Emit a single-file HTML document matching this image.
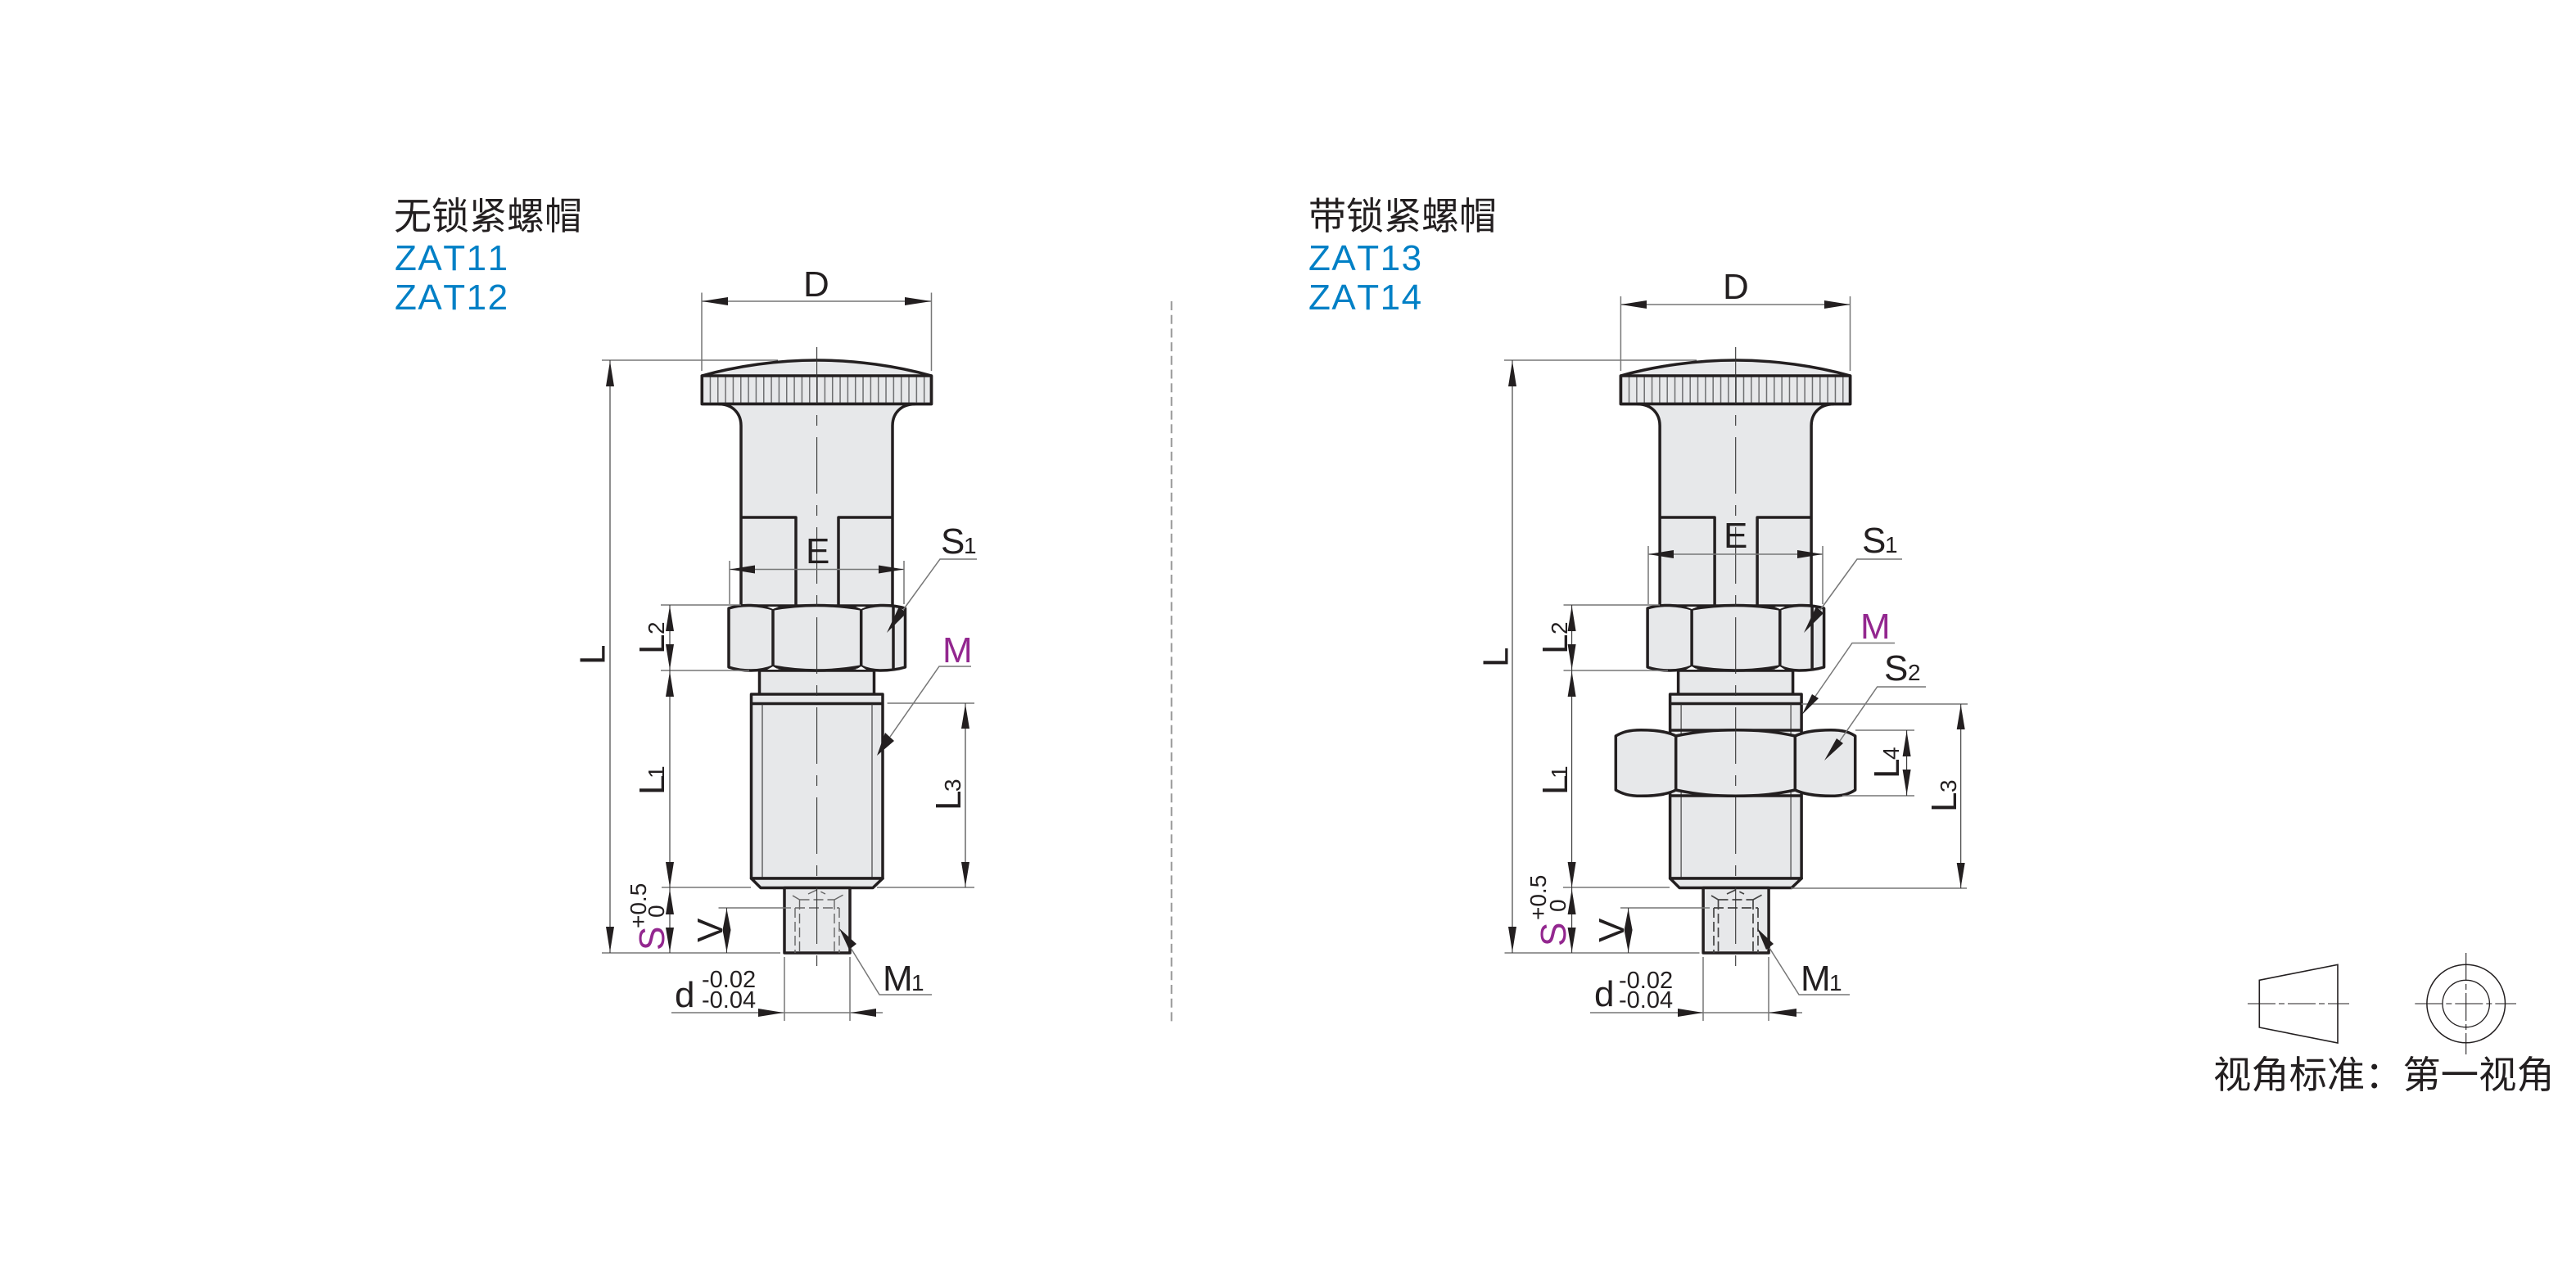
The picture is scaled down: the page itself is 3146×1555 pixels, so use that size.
<!DOCTYPE html>
<html><head><meta charset="utf-8"><title>ZAT</title>
<style>
html,body{margin:0;padding:0;background:#fff}
svg{display:block;position:absolute;left:0;top:0}
text{font-family:"Liberation Sans","Noto Sans CJK SC",sans-serif;fill:#231f20}
.t{font-size:44px}.s{font-size:28px}.k{font-size:46px}
.b{fill:#0080c6;font-size:44px;font-kerning:none;letter-spacing:1.5px}
.o{fill:none;stroke:#231f20;stroke-width:3.5;stroke-linejoin:round}
.f{fill:#e7e8ea;stroke:#231f20;stroke-width:3.5;stroke-linejoin:round}
.d{stroke:#777;stroke-width:1.5;fill:none}
.l{stroke:#333;stroke-width:1.1;fill:none}
.a{fill:#231f20;stroke:none}
</style></head><body>
<svg width="3146" height="1555" viewBox="0 0 3146 1555" xmlns="http://www.w3.org/2000/svg">
<defs>
<g id="head">
<path class="f" d="M857.3 459C900 447 950 440 997.4 440C1045 440 1095 447 1137.5 459V493.5H857.3Z"/>
<line x1="866.7" y1="476" x2="1137" y2="476" stroke="#6f7072" stroke-width="33" stroke-dasharray="1.5 7.83"/>
<path class="o" d="M857.3 459H1137.5V493.5H857.3Z"/>
<path class="f" d="M878 493.5C895 494 905 505 905 520V740H1090V520C1090 505 1100 494 1117 493.5Z"/>
<path class="o" d="M905 632H972V739M1090 632H1024V739"/>
</g>
<g id="nut">
<path class="f" d="M890 743Q902 739 917 739.5Q932 740 944 744Q997 735 1051.7 744Q1062 740 1075 739.5Q1092 739 1105.5 743V815Q1092 819 1075 819Q1062 819 1051.7 814Q997 824 944 814Q932 819 917 819Q902 819 890 815Z"/>
<path class="o" d="M944 744V814M1051.7 744V814M1091 740V819"/>
<path d="M937 741L944 744L951 741ZM937 818L944 814L951 818ZM1045 741L1051.7 744L1058 741ZM1045 818L1051.7 814L1058 818Z" fill="#fff"/>
</g>
<g id="body">
<rect class="f" x="927.5" y="819" width="140" height="30"/>
<rect class="f" x="917.5" y="848" width="160.5" height="225"/>
<path class="o" d="M917.5 859.5H1078" />
<path class="l" d="M931 860V1084M1065 860V1084"/>
<path class="f" d="M917.5 1073L929 1084.5H1066L1078 1073Z"/>
<path class="f" d="M958 1084.5H1038V1164H958Z"/>
</g>
<g id="cl">
<line x1="997.6" y1="424" x2="997.6" y2="1180" stroke="#333" stroke-width="1.1" stroke-dasharray="69 14 13 14"/>
</g>
</defs>

<!-- titles -->
<text class="k" x="481" y="280">无锁紧螺帽</text>
<text class="b" x="482" y="330">ZAT11</text>
<text class="b" x="482" y="378">ZAT12</text>
<text class="k" x="1598" y="280">带锁紧螺帽</text>
<text class="b" x="1598" y="330">ZAT13</text>
<text class="b" x="1598" y="378">ZAT14</text>

<!-- divider -->
<line x1="1430.7" y1="368" x2="1430.7" y2="1250" stroke="#999" stroke-width="2" stroke-dasharray="11 5.7"/>

<!-- LEFT DRAWING -->
<use href="#head"/><use href="#body"/><use href="#nut"/>
<path d="M971 1109H1025M971 1109V1164M1025 1109V1164M976.5 1099H1019M976.5 1099V1164M1019 1099V1164M987 1092L997.6 1087L1008 1092M976.5 1099L968 1094M1019 1099L1030 1093" fill="none" stroke="#666" stroke-width="1.4" stroke-dasharray="12 5"/>
<use href="#cl"/>

<!-- left dims -->
<path class="l" d="M735 440H950"/>
<path class="l" d="M745 440V1164"/>
<path class="a" d="M745 441L750 472H740ZM745 1163L750 1132H740Z"/>
<path class="d" d="M857 357.5V453M1137.5 357.5V453M857 368H1137"/>
<path class="a" d="M857 368L889 363V373ZM1137.5 368L1105 363V373Z"/>
<path class="d" d="M891 685V738M1104 685V738M891 695.5H1104"/>
<path class="a" d="M891 695.5L922 690.5V700.5ZM1104 695.5L1073 690.5V700.5Z"/>
<path class="d" d="M807 739H905M807 819H915M808 1084H917M1071 1084H1190M1083.6 859H1190M877.5 1109H966"/>
<path class="l" d="M735 1164H953"/>
<path class="l" d="M818 739V1164M1179 859V1084M887.5 1109V1164"/>
<path class="a" d="M818 740L823 771H813ZM818 818L823 787H813ZM818 820L823 851H813ZM818 1084L823 1053H813ZM818 1086L823 1117H813ZM818 1163L823 1133H813ZM1179 860L1184 890H1174ZM1179 1083L1184 1053H1174ZM887.5 1110L892.5 1136H882.5ZM887.5 1163L892.5 1136H882.5Z"/>
<path class="d" d="M958 1169V1247M1038 1169V1247M820 1237H1078"/>
<path class="a" d="M957 1237L926 1232V1242ZM1039 1237L1070 1232V1242Z"/>
<!-- leaders -->
<path class="d" d="M1193 683H1148L1103 745M1186 814H1147L1087 900M1138 1215H1074L1039 1158"/>
<path class="a" d="M1083 773L1098 741L1107 749ZM1071 923L1081 895L1092 905ZM1025 1134L1046 1153L1037 1160Z"/>

<!-- left labels -->
<text class="t" x="981" y="362">D</text>
<text class="t" x="984" y="688">E</text>
<text class="t" x="1149" y="676">S</text><text class="s" x="1177" y="676">1</text>
<text class="t" x="1151" y="809" style="fill:#93278f">M</text>
<text class="t" x="1078" y="1210">M</text><text class="s" x="1113" y="1210">1</text>
<text class="t" x="824" y="1230">d</text>
<text class="s" x="857" y="1206" style="font-size:29px">-0.02</text>
<text class="s" x="857" y="1231" style="font-size:29px">-0.04</text>
<text class="t" transform="translate(738.5 812) rotate(-90)">L</text>
<text class="t" transform="translate(811 799) rotate(-90)">L</text><text class="s" transform="translate(811 775) rotate(-90)">2</text>
<text class="t" transform="translate(811 971) rotate(-90)">L</text><text class="s" transform="translate(811 951) rotate(-90)">1</text>
<text class="t" transform="translate(1173 990) rotate(-90)">L</text><text class="s" transform="translate(1173 967) rotate(-90)">3</text>
<text class="t" transform="translate(811 1161) rotate(-90)" style="fill:#93278f">S</text>
<text class="s" transform="translate(789 1134) rotate(-90)">+0.5</text>
<text class="s" transform="translate(811 1121) rotate(-90)">0</text>
<text class="t" transform="translate(882 1151) rotate(-90)">V</text>

<!-- RIGHT DRAWING -->
<g transform="translate(1122.1 0)"><use href="#head"/><use href="#body"/></g>
<g transform="translate(1122.1 0)"><use href="#nut"/></g>
<path class="o" d="M2040 892H2200M2040 972H2200"/>
<path class="f" d="M1973.3 899C1982 894 1990 891.7 2004 891.7C2020 891.7 2035 893 2046.7 899C2075 893 2095 891.7 2119.7 891.7C2145 891.7 2165 893 2192.3 899C2205 893 2220 891.7 2236 891.7C2250 891.7 2258 894 2265.7 899V965C2258 970 2250 972.3 2236 972.3C2220 972.3 2205 971 2192.3 965C2165 971 2145 972.3 2119.7 972.3C2095 972.3 2075 971 2046.7 965C2035 971 2020 972.3 2004 972.3C1990 972.3 1982 970 1973.3 965Z"/>
<path class="o" d="M2046.7 899V965M2192.3 899V965"/>
<path d="M2093 1109H2147M2093 1109V1164M2147 1109V1164M2098.5 1099H2141M2098.5 1099V1164M2141 1099V1164M2109 1092L2119.7 1087L2130 1092M2098.5 1099L2090 1094M2141 1099L2152 1093" fill="none" stroke="#444" stroke-width="1.7" stroke-dasharray="12 5"/>
<g transform="translate(1122.1 0)"><use href="#cl"/></g>

<!-- right dims -->
<path class="l" d="M1837 440H2072M1847 440V1164"/>
<path class="a" d="M1847 441L1852 472H1842ZM1847 1163L1852 1132H1842Z"/>
<path class="d" d="M1979.4 362V453M2259.5 362V453M1979.4 372H2259.5"/>
<path class="a" d="M1979.4 372L2011 367V377ZM2259.5 372L2228 367V377Z"/>
<path class="d" d="M2013 667V738M2226 667V738M2013 677H2226"/>
<path class="a" d="M2013 677L2044 672V682ZM2226 677L2195 672V682Z"/>
<path class="d" d="M1909.5 739H2027M1909.5 819H2037M1909 1084H2039M2187 1085H2402M2200 860H2403M2266 892H2338M2250 972H2338M1979 1109H2088"/>
<path class="l" d="M1837.5 1164H2075.5M1919.6 739V1164M2394.7 860V1085M2328.6 892V972M1988.6 1109V1164"/>
<path class="a" d="M1919.6 740L1924.6 771H1914.6ZM1919.6 818L1924.6 787H1914.6ZM1919.6 820L1924.6 851H1914.6ZM1919.6 1084L1924.6 1053H1914.6ZM1919.6 1086L1924.6 1117H1914.6ZM1919.6 1163L1924.6 1133H1914.6ZM2394.7 861L2399.7 891H2389.7ZM2394.7 1084L2399.7 1054H2389.7ZM2328.6 893L2333.6 924H2323.6ZM2328.6 971L2333.6 940H2323.6ZM1988.6 1110L1993.6 1136H1983.6ZM1988.6 1163L1993.6 1136H1983.6Z"/>
<path class="d" d="M2080 1169V1247M2160 1169V1247M1942 1237H2201"/>
<path class="a" d="M2080 1237L2049 1232V1242ZM2160 1237L2194 1232V1242Z"/>
<path class="d" d="M2323 683H2268L2223 745M2314 785.5H2262L2216 852M2352 839H2292.6L2247 905M2259 1215H2197L2161 1158"/>
<path class="a" d="M2203 773L2218 741L2227 749ZM2200.7 873L2213 848L2221 853ZM2228 929L2243 902L2251 908ZM2146 1134L2166 1153L2157 1160Z"/>

<!-- right labels -->
<text class="t" x="2104" y="365">D</text>
<text class="t" x="2105" y="669">E</text>
<text class="t" x="2274" y="675">S</text><text class="s" x="2302" y="675">1</text>
<text class="t" x="2272" y="780" style="fill:#93278f">M</text>
<text class="t" x="2301" y="831">S</text><text class="s" x="2330" y="831">2</text>
<text class="t" x="2199" y="1210">M</text><text class="s" x="2234" y="1210">1</text>
<text class="t" x="1947" y="1229">d</text>
<text class="s" x="1977" y="1207" style="font-size:29px">-0.02</text>
<text class="s" x="1977" y="1231" style="font-size:29px">-0.04</text>
<text class="t" transform="translate(1841.5 815) rotate(-90)">L</text>
<text class="t" transform="translate(1914 799) rotate(-90)">L</text><text class="s" transform="translate(1914 775) rotate(-90)">2</text>
<text class="t" transform="translate(1914 971) rotate(-90)">L</text><text class="s" transform="translate(1914 951) rotate(-90)">1</text>
<text class="t" transform="translate(2389 992) rotate(-90)">L</text><text class="s" transform="translate(2389 968) rotate(-90)">3</text>
<text class="t" transform="translate(2319 951) rotate(-90)">L</text><text class="s" transform="translate(2319 928) rotate(-90)">4</text>
<text class="t" transform="translate(1912 1156) rotate(-90)" style="fill:#93278f">S</text>
<text class="s" transform="translate(1888 1124) rotate(-90)">+0.5</text>
<text class="s" transform="translate(1912 1114) rotate(-90)">0</text>
<text class="t" transform="translate(1983 1151) rotate(-90)">V</text>

<!-- view symbol -->
<path d="M2759.3 1197.3L2855 1178.3V1274L2759.3 1255Z" fill="none" stroke="#231f20" stroke-width="1.6"/>
<line x1="2745" y1="1226" x2="2869" y2="1226" stroke="#231f20" stroke-width="1.1" stroke-dasharray="34 4 7 4"/>
<circle cx="3011.7" cy="1226" r="47.8" fill="none" stroke="#231f20" stroke-width="1.5"/>
<circle cx="3011.7" cy="1226" r="28.7" fill="none" stroke="#231f20" stroke-width="1.3"/>
<line x1="2949.3" y1="1226" x2="3073" y2="1226" stroke="#231f20" stroke-width="1.1" stroke-dasharray="34 4 7 4"/>
<line x1="3011.7" y1="1164" x2="3011.7" y2="1288" stroke="#231f20" stroke-width="1.1" stroke-dasharray="34 4 7 4"/>
<text x="2703" y="1329" style="font-size:46.3px">视角标准：第一视角</text>
</svg>
</body></html>
